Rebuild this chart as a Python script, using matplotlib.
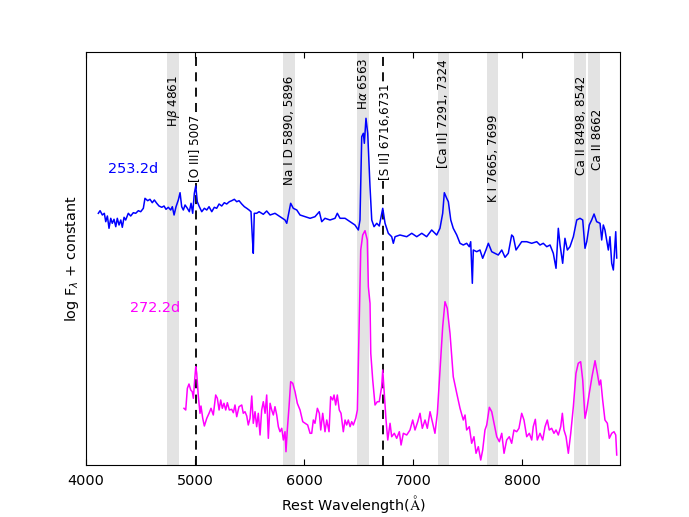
import numpy as np
import matplotlib
matplotlib.use('Agg')
import matplotlib.pyplot as plt

# spectrum at 253.2 d (wavelength in A, log flux + offset, arbitrary units)
wave_253 = [4112, 4128, 4149, 4167, 4180, 4195, 4210, 4226, 4240, 4256, 4272, 4286, 4302, 4318,
            4332, 4348, 4363, 4387, 4409, 4433, 4455, 4479, 4501, 4525, 4540, 4565, 4586, 4607,
            4626, 4648, 4669, 4694, 4715, 4733, 4754, 4776, 4791, 4807, 4825, 4846, 4862, 4877,
            4892, 4908, 4929, 4947, 4963, 4978, 4993, 5006, 5020, 5039, 5061, 5085, 5107, 5128,
            5153, 5176, 5198, 5220, 5244, 5268, 5290, 5314, 5336, 5360, 5382, 5403, 5428, 5452,
            5474, 5495, 5513, 5525, 5534, 5543, 5565, 5587, 5626, 5657, 5688, 5733, 5779, 5825,
            5841, 5877, 5901, 5933,
            5963, 6009, 6055, 6100, 6140, 6162, 6192, 6238, 6284, 6305, 6330, 6376, 6422, 6467,
            6498, 6513, 6529, 6544, 6553, 6568, 6584, 6605, 6621, 6642, 6667, 6690, 6722, 6743,
            6773, 6804, 6819, 6835, 6880, 6942, 6988, 7034, 7080, 7125, 7171, 7217, 7247, 7272,
            7287, 7309, 7324, 7346, 7369, 7401, 7431, 7461, 7492, 7516, 7529, 7544, 7553, 7584,
            7614, 7639, 7669, 7691, 7722, 7752, 7782, 7814, 7844, 7874, 7905, 7920, 7945, 7966,
            7997, 8043, 8089, 8135, 8165, 8195, 8227, 8257, 8287, 8312, 8333, 8349, 8373, 8394,
            8416, 8440, 8471, 8502, 8532, 8557, 8578, 8594, 8617, 8639, 8661, 8685, 8716, 8731,
            8746, 8761, 8777, 8792, 8807, 8823, 8838, 8860, 8869]
flux_253 = [252.0, 254.6, 250.3, 252.0, 243.6, 249.3, 237.0, 247.0, 242.0, 246.0, 238.6, 247.0, 240.3, 245.3,
            238.0, 248.0, 245.3, 252.0, 249.3, 252.6, 252.0, 254.6, 253.6, 257.0, 267.0, 264.6, 266.0, 262.6,
            265.3, 262.0, 259.3, 258.0, 259.3, 256.0, 258.0, 255.3, 258.6, 250.3, 258.6, 265.3, 272.6, 258.6,
            255.3, 260.3, 257.0, 253.6, 262.0, 252.0, 272.0, 279.3, 263.6, 258.6, 253.6, 257.0, 255.3, 258.6,
            253.6, 258.0, 257.0, 261.3, 259.3, 262.6, 261.3, 263.6, 264.6, 266.0, 263.6, 264.6, 261.3, 258.6,
            257.0, 255.3, 253.6, 228.6, 212.0, 252.0, 252.0, 253.6, 251.0, 254.3, 250.3, 252.0, 248.6, 245.3,
            242.0, 262.0, 257.0, 255.3,
            250.3, 248.6, 247.0, 248.6, 253.6, 243.6, 247.0, 245.3, 247.0, 252.0, 247.0, 247.0, 243.6, 240.3,
            235.3, 245.3, 328.6, 332.0, 322.0, 347.0, 332.0, 278.6, 245.3, 238.6, 242.0, 239.3, 257.0, 242.0,
            232.0, 228.6, 222.0, 228.6, 230.3, 228.6, 232.0, 228.6, 232.0, 228.6, 235.3, 230.3, 237.0, 252.0,
            272.6, 267.0, 263.6, 245.3, 237.0, 230.3, 222.0, 220.3, 222.0, 218.6, 223.6, 182.0, 215.3, 213.6,
            215.3, 207.0, 215.3, 222.0, 213.6, 212.0, 210.3, 215.3, 208.0, 212.0, 230.3, 228.6, 215.3, 218.6,
            223.6, 223.6, 222.0, 223.6, 220.3, 222.0, 218.6, 220.3, 212.0, 197.0, 237.0, 220.3, 202.0, 227.0,
            215.3, 218.6, 228.6, 245.3, 247.0, 245.3, 217.0, 223.6, 240.3, 245.3, 251.3, 243.6, 242.0, 225.3,
            240.3, 235.3, 225.3, 215.3, 228.6, 202.0, 195.3, 233.6, 207.3]

# spectrum at 272.2 d
wave_272 = [4898, 4914, 4929, 4944, 4960, 4974, 4984, 4996, 5006, 5015, 5030, 5045, 5054, 5070,
            5085, 5107, 5128, 5146, 5167, 5189, 5204, 5220, 5235, 5250, 5265, 5281, 5296, 5314,
            5336, 5351, 5366, 5382, 5403, 5428, 5442, 5458, 5474, 5488, 5504, 5520, 5534, 5550,
            5565, 5580, 5596, 5611, 5626, 5642, 5657, 5672, 5688, 5703, 5718, 5733, 5749, 5764,
            5779, 5795, 5810, 5825, 5834, 5846, 5862, 5877, 5896, 5917, 5938, 5963, 5988, 6009,
            6033, 6055, 6070, 6085, 6100, 6122, 6140, 6153, 6171, 6192, 6208, 6229, 6244, 6263,
            6275, 6290, 6305, 6323, 6339, 6360, 6376, 6391, 6406, 6422, 6437, 6452, 6474, 6489,
            6500, 6520, 6538, 6559, 6580, 6590, 6605, 6612, 6630, 6651,
            6672, 6690, 6712, 6722, 6736, 6752, 6768, 6789, 6804, 6828, 6850, 6874, 6890, 6911,
            6942, 6972, 6997, 7018, 7043, 7064, 7085, 7110, 7131, 7156, 7180, 7201, 7223, 7247,
            7272, 7293, 7314, 7339, 7369, 7401, 7431, 7461, 7477, 7492, 7516, 7538, 7559, 7578,
            7599, 7621, 7639, 7660, 7676, 7700, 7722, 7743, 7768, 7792, 7814, 7835, 7859, 7883,
            7905, 7926, 7951, 7972, 7997, 8018, 8043, 8067, 8089, 8103, 8122, 8140, 8165, 8190,
            8211, 8232, 8250, 8272, 8293, 8312, 8333, 8355, 8370, 8385, 8404, 8425, 8447, 8471,
            8495, 8516, 8538, 8557, 8578, 8594, 8617, 8642, 8670, 8691, 8709, 8722, 8740, 8761,
            8783, 8801, 8823, 8844, 8860, 8869]
flux_272 = [57.0, 55.3, 77.0, 81.3, 75.3, 73.6, 67.0, 85.3, 98.6, 92.0, 68.6, 52.0, 59.3, 47.0,
            39.3, 47.0, 52.0, 57.0, 50.3, 70.3, 67.0, 55.3, 65.3, 57.0, 62.0, 55.3, 62.6, 55.3,
            56.0, 52.6, 60.3, 48.6, 58.6, 60.3, 52.0, 53.6, 49.3, 40.3, 47.0, 69.3, 42.0, 53.6,
            38.6, 52.0, 30.3, 55.3, 63.6, 52.0, 70.3, 27.0, 62.0, 55.3, 50.3, 58.6, 50.3, 38.6,
            33.6, 37.0, 25.3, 33.6, 13.6, 35.3, 58.6, 83.6, 82.0, 73.6, 62.0, 55.3, 43.6, 42.0,
            40.3, 32.0, 32.0, 45.3, 42.0, 57.0, 52.0, 35.3, 52.0, 33.6, 45.3, 33.6, 68.6, 65.3,
            70.3, 60.3, 70.3, 55.3, 52.0, 33.6, 45.3, 40.3, 45.3, 38.6, 43.6, 40.3, 47.0, 55.3,
            112.0, 215.3, 230.3, 234.6, 225.3, 178.6, 162.0, 112.0, 85.3, 60.3,
            63.6, 63.6, 78.6, 95.3, 72.0, 45.3, 25.3, 42.0, 28.6, 32.0, 27.0, 33.6, 20.3, 32.0,
            30.3, 35.3, 45.3, 35.3, 43.6, 52.0, 37.0, 45.3, 37.0, 53.6, 42.0, 32.0, 52.0, 95.3,
            138.6, 163.6, 157.0, 132.0, 88.6, 72.0, 57.0, 45.3, 50.3, 35.3, 38.6, 22.0, 28.6, 12.0,
            18.6, 5.3, 15.3, 35.3, 40.3, 58.0, 53.6, 42.0, 28.6, 23.6, 32.0, 12.0, 25.3, 28.6,
            22.0, 35.3, 33.6, 37.0, 52.0, 45.3, 28.6, 32.0, 25.3, 38.6, 46.0, 25.3, 32.0, 25.3,
            38.6, 45.3, 35.3, 37.0, 32.0, 35.3, 30.3, 38.6, 52.0, 35.3, 28.6, 12.0, 32.0, 58.6,
            92.0, 102.0, 103.6, 85.3, 47.0, 55.3, 72.0, 88.6, 104.6, 92.0, 80.3, 85.3, 65.3, 45.3,
            42.0, 27.0, 32.0, 33.6, 30.3, 10.3]

# line identifications: label, label x, label bottom y
line_labels = [r'H$\beta$ 4861', '[O III] 5007', 'Na I D 5890, 5896', r'H$\alpha$ 6563',
               '[S II] 6716,6731', '[Ca II] 7291, 7324', 'K I 7665, 7699',
               'Ca II 8498, 8542', 'Ca II 8662']
label_x = [4807, 4995, 5865, 6544, 6743, 7278, 7736, 8548, 8691]
label_y = [338, 283, 280, 355, 285, 297, 263, 290, 295]
on_dashed = [False, True, False, False, True, False, False, False, False]

# shaded regions
bands = [(4745, 4852), (5810, 5917), (6486, 6593), (7226, 7333),
         (7676, 7782), (8480, 8587), (8603, 8716)]
dashed_lines = [5007, 6724]

fs = 12 * 0.86125
fig = plt.figure(figsize=(6.89, 5.17), dpi=100)
ax = fig.add_axes([0.125, 0.1, 0.775, 0.8])

for lo, hi in bands:
    ax.axvspan(lo, hi, color='0.89', lw=0, zorder=0)
for xl in dashed_lines:
    ax.axvline(xl, color='k', lw=1.3, linestyle=(0, (5, 3.5)), zorder=1)

ax.plot(wave_253, flux_253, color='b', lw=1.1, zorder=2)
ax.plot(wave_272, flux_272, color='magenta', lw=1.1, zorder=2)

ax.text(4433, 296, '253.2d', color='b', fontsize=fs, ha='center', va='center')
ax.text(4632, 157, '272.2d', color='magenta', fontsize=fs, ha='center', va='center')

for lab, lx, ly, cover in zip(line_labels, label_x, label_y, on_dashed):
    t = ax.text(lx, ly, lab, rotation=90, fontsize=10 * 0.86125, ha='center', va='bottom',
                zorder=4)
    if cover:
        t.set_bbox(dict(facecolor='white', edgecolor='none', pad=0.3))

ax.set_xlim(4000, 8900)
ax.set_ylim(0, 413.6)
ax.set_xticks([4000, 5000, 6000, 7000, 8000])
ax.set_yticks([])
ax.tick_params(axis='x', direction='in', top=True, length=4, labelsize=fs, pad=6)
ax.set_xlabel(r'Rest Wavelength($\mathrm{\AA}$)', fontsize=fs, math_fontfamily='cm')
ax.set_ylabel(r'log F$_\lambda$ + constant', fontsize=fs)

plt.savefig('out.png', dpi=100)
